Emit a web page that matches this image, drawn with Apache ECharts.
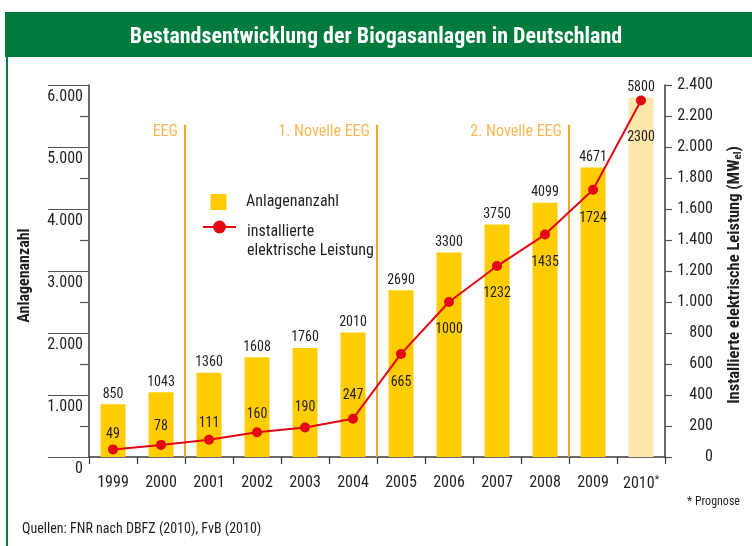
<!DOCTYPE html>
<html>
<head>
<meta charset="utf-8">
<title>Bestandsentwicklung der Biogasanlagen in Deutschland</title>
<script src="https://cdn.jsdelivr.net/npm/echarts@6/dist/echarts.min.js"></script>
<style>
  html, body { margin: 0; padding: 0; background: #fff; }
  #chart { width: 752px; height: 546px; }
</style>
</head>
<body>
<div id="chart"></div>
<script>
// data
const years = ['1999', '2000', '2001', '2002', '2003', '2004', '2005', '2006', '2007', '2008', '2009', '2010*']
const anlagenanzahl = [850, 1043, 1360, 1608, 1760, 2010, 2690, 3300, 3750, 4099, 4671, 5800]
const leistungMW = [49, 78, 111, 160, 190, 247, 665, 1000, 1232, 1435, 1724, 2300]
const phaseBounds = [2, 6, 10] // category boundaries (before 2001, 2005, 2009)
const phaseNames = ['EEG', '1. Novelle EEG', '2. Novelle EEG']
const prognoseIndex = 11

// Roboto condensed face, picked through the font-stretch keyword
const FONT = 'Roboto'
const CND = 'condensed'
const TEXT = '#231f20'
const GREEN = '#007b3d'
const ORANGE = '#f5a72a'
const RED = '#e30613'

function fmt(n) {
  return String(n).replace(/\B(?=(\d{3})+(?!\d))/g, '.')
}

function txt(size, extra) {
  return Object.assign({ fontFamily: FONT, fontStyle: CND, fontSize: size, color: TEXT }, extra || {})
}

// label placement of the line values (style only)
const lineLabelPlace = [
  ['top', 3], ['top', 6], ['top', 4], ['top', 6], ['top', 8], ['top', 11],
  ['bottom', 17], ['bottom', 15], ['bottom', 15], ['bottom', 16], ['bottom', 17], ['bottom', 25]
]

const chart = echarts.init(document.getElementById('chart'))

const barIcon = 'path://M0,0L0.01,0M33,16L32.99,16M8.5,0H24.5V16H8.5Z'

chart.setOption({
  animation: false,
  textStyle: { fontFamily: FONT, fontStyle: CND, color: TEXT },
  graphic: [
    { type: 'rect', z: 0, shape: { x: 5, y: 12, width: 747, height: 45 }, style: { fill: GREEN } },
    { type: 'rect', z: 0, shape: { x: 6, y: 12, width: 2, height: 534 }, style: { fill: GREEN } }
  ],
  title: [
    {
      text: 'Bestandsentwicklung der Biogasanlagen in Deutschland',
      left: 'center', top: 21, z: 10,
      textStyle: txt(22, { color: '#fff', fontWeight: 'bold' })
    },
    {
      text: 'Quellen: FNR nach DBFZ (2010), FvB (2010)',
      left: 17, top: 517,
      textStyle: txt(14, { fontWeight: 'normal' })
    },
    {
      text: '* Prognose',
      left: 682, top: 491,
      textStyle: txt(12, { fontWeight: 'normal' })
    }
  ],
  legend: [
    {
      orient: 'vertical',
      left: 202, top: 194, padding: 0,
      itemWidth: 33, itemHeight: 16,
      selectedMode: false,
      textStyle: txt(16, { padding: [0, 0, 0, 6] }),
      data: [{ name: 'Anlagenanzahl', icon: barIcon }]
    },
    {
      orient: 'vertical',
      left: 202, top: 200, padding: 0,
      itemWidth: 33, itemHeight: 16,
      selectedMode: false,
      textStyle: txt(16, {
        padding: [0, 0, 0, 6],
        rich: {
          e: txt(16, { lineHeight: 28 }),
          a: txt(16, { lineHeight: 19 })
        }
      }),
      data: ['installierte elektrische Leistung'],
      formatter: () => '{e| }\n{a|installierte}\n{a|elektrische Leistung}'
    }
  ],
  grid: { left: 89, right: 80, top: 85, bottom: 89 },
  xAxis: [
    {
      type: 'category',
      data: years,
      axisLine: { lineStyle: { color: '#3a3a3a', width: 1.5 } },
      axisTick: { show: true, length: 7, lineStyle: { color: '#3a3a3a', width: 1.2 } },
      axisLabel: Object.assign(txt(16), {
        interval: 0, margin: 18,
        formatter: v => v.endsWith('*') ? v.slice(0, -1) + '{s|*}' : v,
        rich: { s: txt(10, { verticalAlign: 'top', padding: [0, 0, 8, 0] }) }
      })
    },
    { type: 'value', min: 0, max: 12, show: false }
  ],
  yAxis: [
    {
      type: 'value',
      min: 0, max: 6000, interval: 1000,
      name: 'Anlagenanzahl',
      nameLocation: 'middle', nameRotate: 90, nameGap: 56,
      nameTextStyle: txt(16, { fontWeight: 'bold', padding: [0, 9, 0, 0] }),
      axisLine: { show: true, lineStyle: { color: '#3a3a3a', width: 1.5 } },
      axisTick: { show: true, length: 41, lineStyle: { color: '#555', width: 1.2 } },
      minorTick: { show: true, splitNumber: 2, length: 9, lineStyle: { color: '#555', width: 1.2 } },
      splitLine: { show: false },
      axisLabel: Object.assign(txt(16), {
        margin: 6, verticalAlign: 'top', padding: [4, 0, 0, 0],
        formatter: v => fmt(v)
      })
    },
    {
      type: 'value',
      position: 'right',
      min: 0, max: 2400, interval: 200,
      name: '{a|Installierte elektrische Leistung (MW}{s|el}{a|)}',
      nameLocation: 'middle', nameRotate: 90, nameGap: 60,
      nameTextStyle: {
        padding: [0, 8, 0, 0],
        rich: {
          a: txt(16.5, { fontWeight: 'bold' }),
          s: txt(11, { fontWeight: 'bold', padding: [8, 0, 0, 0] })
        }
      },
      axisLine: { show: true, lineStyle: { color: '#3a3a3a', width: 1.5 } },
      axisTick: { show: true, length: 7, lineStyle: { color: '#555', width: 1.2 } },
      splitLine: { show: false },
      axisLabel: Object.assign(txt(16), {
        margin: 48, align: 'right',
        formatter: v => fmt(v)
      })
    }
  ],
  series: [
    {
      name: 'Anlagenanzahl',
      type: 'bar',
      barWidth: 25,
      itemStyle: { color: '#ffcc00' },
      data: anlagenanzahl.map((v, i) => i === prognoseIndex
        ? { value: v, itemStyle: { color: '#fde7ad' } }
        : v),
      label: Object.assign(txt(14), { show: true, position: 'top', distance: 3 })
    },
    {
      name: 'installierte elektrische Leistung',
      type: 'line',
      yAxisIndex: 1,
      z: 5,
      symbol: 'circle',
      symbolSize: 10,
      lineStyle: { color: RED, width: 2 },
      itemStyle: { color: RED },
      data: leistungMW.map((v, i) => ({
        value: v,
        label: { position: lineLabelPlace[i][0], distance: lineLabelPlace[i][1] }
      })),
      label: Object.assign(txt(14), { show: true })
    },
    {
      name: 'Phasen',
      type: 'scatter',
      xAxisIndex: 1,
      yAxisIndex: 0,
      symbolSize: 0,
      silent: true,
      data: phaseBounds.map((b, i) => [b, 5245, phaseNames[i]]),
      label: Object.assign(txt(16, { color: ORANGE }), {
        show: true, position: 'left', distance: 7,
        formatter: p => p.data[2]
      }),
      markLine: {
        silent: true,
        symbol: 'none',
        label: { show: false },
        lineStyle: { color: ORANGE, width: 2, type: 'solid' },
        data: phaseBounds.map(b => [{ coord: [b, 0] }, { coord: [b, 5360] }])
      }
    }
  ]
})
</script>
</body>
</html>
